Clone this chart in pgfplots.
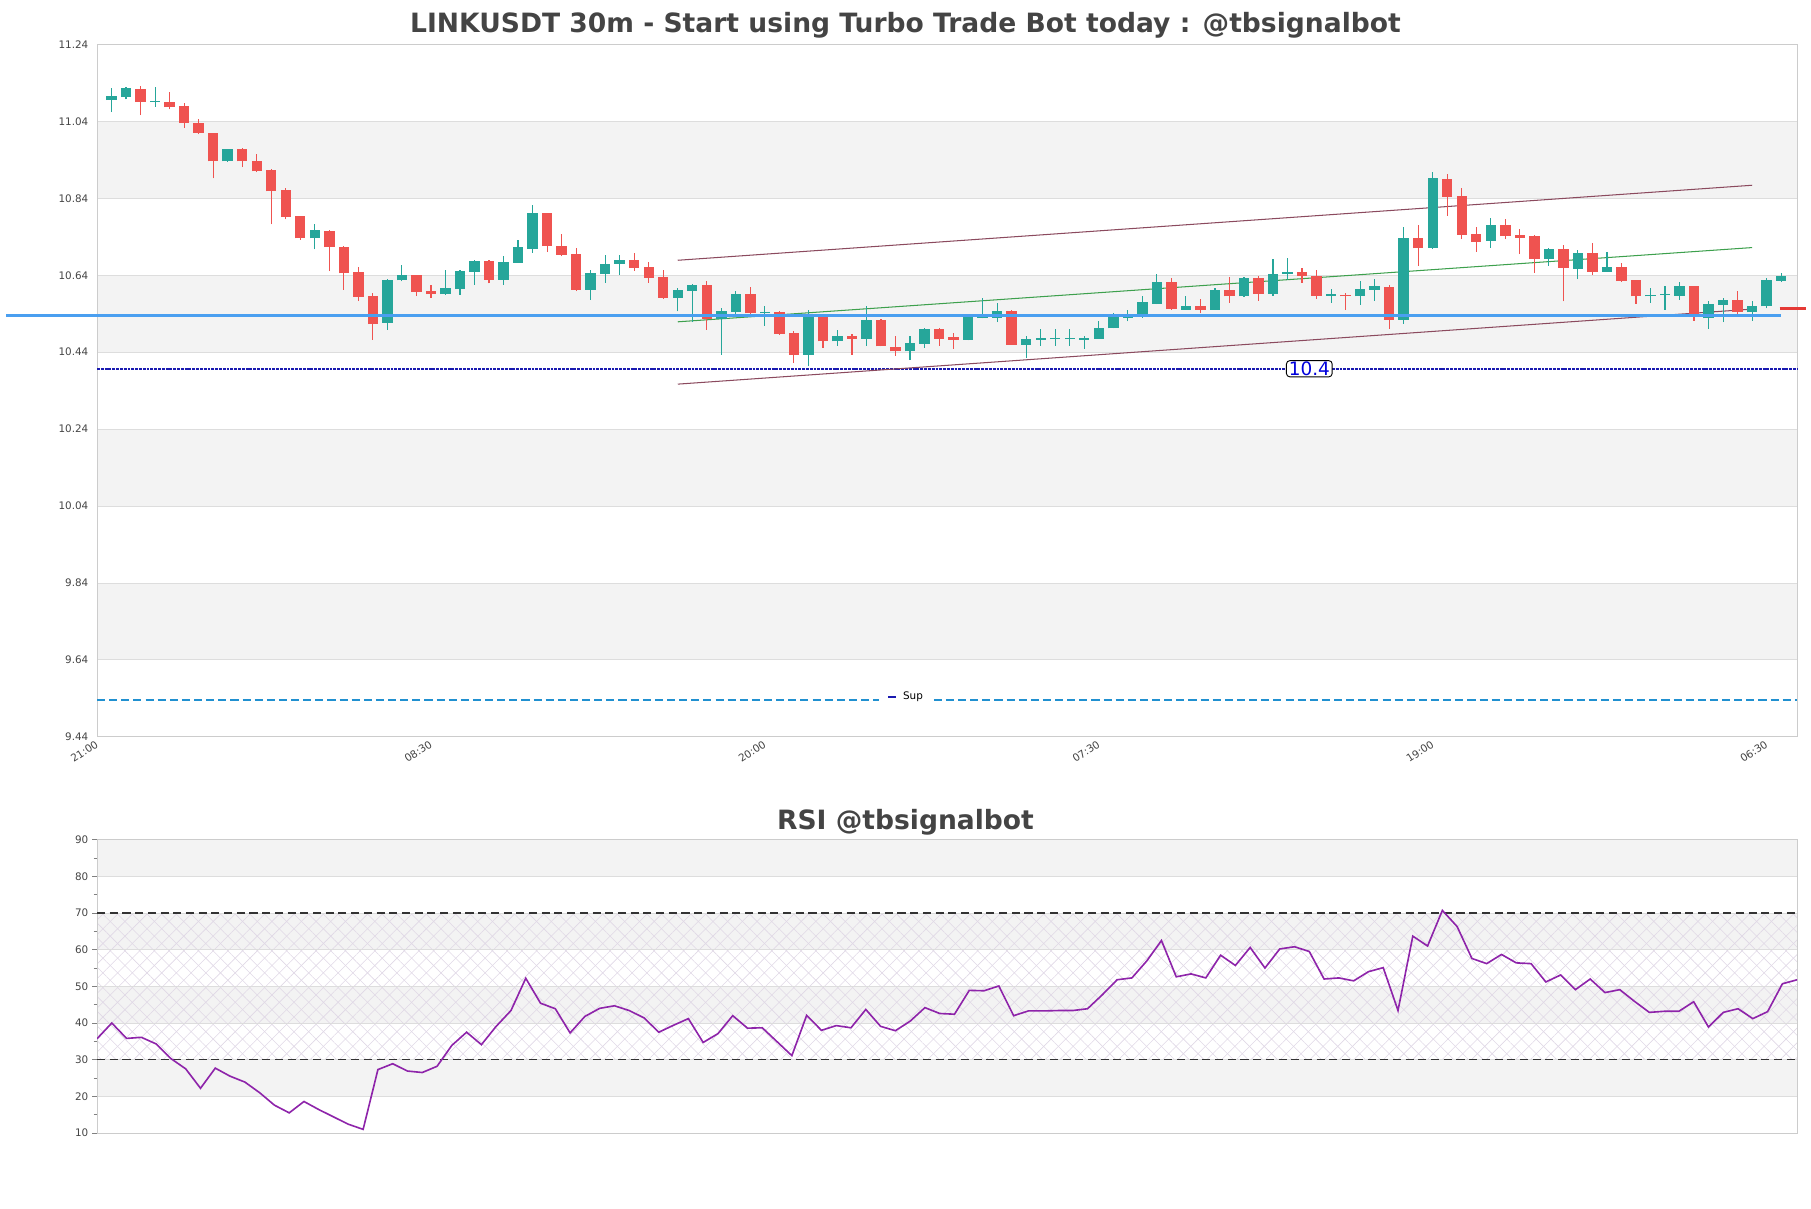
\documentclass[border=0pt]{standalone}
\usepackage{fontspec}
\setmainfont{DejaVu Sans}
\usepackage{pgfplots}
\usepackage{pgfplotstable}
\pgfplotsset{compat=1.18}
\usetikzlibrary{patterns.meta}

\definecolor{cgreen}{HTML}{26A69A}
\definecolor{cred}{HTML}{EF5350}
\definecolor{bandgray}{HTML}{F3F3F3}
\definecolor{gridgray}{HTML}{DDDDDD}
\definecolor{axisgray}{HTML}{CCCCCC}
\definecolor{txtgray}{HTML}{444444}
\definecolor{lblue}{HTML}{4A9FF0}
\definecolor{navyd}{HTML}{1A1AB0}
\definecolor{supblue}{HTML}{2090D0}
\definecolor{chanbrown}{HTML}{8B4A5E}
\definecolor{changreen}{HTML}{3DA04D}
\definecolor{rsipurple}{HTML}{8E24AA}
\definecolor{hatchc}{HTML}{E0D8E6}
\definecolor{markred}{HTML}{E53935}

\pgfplotstableread{
i o h l c
1 11.095 11.126 11.064 11.105
2 11.103 11.129 11.097 11.127
4 11.090 11.130 11.078 11.093
9 10.936 10.968 10.935 10.967
15 10.736 10.772 10.707 10.757
20 10.516 10.631 10.498 10.629
21 10.627 10.666 10.624 10.640
24 10.591 10.653 10.589 10.606
25 10.604 10.653 10.589 10.650
26 10.649 10.679 10.616 10.676
28 10.629 10.689 10.616 10.674
29 10.672 10.732 10.672 10.713
30 10.708 10.822 10.698 10.801
34 10.602 10.655 10.576 10.645
35 10.643 10.692 10.620 10.670
36 10.670 10.693 10.641 10.679
40 10.582 10.606 10.546 10.602
41 10.600 10.617 10.518 10.615
43 10.527 10.555 10.434 10.546
44 10.544 10.598 10.538 10.591
46 10.541 10.559 10.509 10.545
49 10.434 10.549 10.403 10.535
51 10.468 10.498 10.457 10.481
53 10.475 10.561 10.457 10.524
56 10.442 10.481 10.421 10.464
57 10.462 10.504 10.452 10.501
60 10.473 10.536 10.471 10.534
61 10.530 10.581 10.528 10.534
62 10.530 10.568 10.518 10.547
64 10.460 10.481 10.426 10.474
65 10.473 10.501 10.457 10.475
66 10.474 10.501 10.457 10.476
67 10.474 10.501 10.457 10.476
68 10.473 10.481 10.449 10.477
69 10.475 10.521 10.475 10.502
70 10.502 10.542 10.502 10.532
71 10.530 10.549 10.520 10.534
72 10.532 10.585 10.530 10.571
73 10.566 10.643 10.565 10.623
75 10.551 10.586 10.551 10.560
77 10.551 10.606 10.551 10.602
79 10.585 10.636 10.584 10.633
81 10.592 10.682 10.587 10.643
82 10.643 10.685 10.629 10.648
85 10.587 10.604 10.569 10.591
87 10.585 10.625 10.564 10.604
88 10.603 10.630 10.574 10.612
90 10.525 10.766 10.514 10.737
92 10.711 10.908 10.708 10.893
96 10.729 10.789 10.711 10.771
100 10.682 10.712 10.665 10.709
102 10.657 10.706 10.630 10.698
104 10.649 10.701 10.649 10.662
107 10.585 10.606 10.569 10.590
108 10.589 10.612 10.551 10.591
109 10.587 10.623 10.577 10.612
111 10.528 10.572 10.501 10.565
112 10.564 10.582 10.518 10.577
114 10.544 10.574 10.522 10.561
115 10.559 10.632 10.554 10.628
116 10.626 10.645 10.622 10.638
}\upcandles

\pgfplotstableread{
i o h l c
3 11.125 11.132 11.056 11.090
5 11.091 11.117 11.071 11.077
6 11.079 11.088 11.023 11.036
7 11.037 11.047 11.007 11.010
8 11.009 11.011 10.892 10.936
10 10.967 10.972 10.921 10.936
11 10.938 10.954 10.908 10.910
12 10.913 10.915 10.772 10.858
13 10.861 10.868 10.785 10.791
14 10.793 10.795 10.732 10.736
16 10.754 10.757 10.651 10.713
17 10.713 10.717 10.602 10.645
18 10.648 10.661 10.573 10.584
19 10.586 10.595 10.472 10.513
22 10.642 10.642 10.586 10.597
23 10.598 10.616 10.581 10.591
27 10.676 10.679 10.619 10.629
31 10.801 10.801 10.700 10.716
32 10.717 10.748 10.690 10.693
33 10.694 10.710 10.599 10.602
37 10.680 10.697 10.652 10.660
38 10.661 10.674 10.621 10.634
39 10.636 10.654 10.579 10.582
42 10.615 10.625 10.498 10.527
45 10.591 10.610 10.538 10.541
47 10.545 10.547 10.485 10.488
48 10.490 10.496 10.413 10.434
50 10.535 10.535 10.452 10.468
52 10.481 10.488 10.434 10.475
54 10.524 10.527 10.455 10.455
55 10.454 10.481 10.431 10.442
58 10.501 10.504 10.457 10.475
59 10.480 10.490 10.449 10.473
63 10.547 10.549 10.460 10.460
74 10.623 10.633 10.551 10.552
76 10.560 10.578 10.541 10.551
78 10.602 10.636 10.569 10.585
80 10.633 10.639 10.574 10.592
83 10.648 10.660 10.621 10.639
84 10.638 10.653 10.579 10.587
86 10.590 10.594 10.551 10.585
89 10.610 10.615 10.501 10.525
91 10.737 10.771 10.665 10.710
93 10.890 10.903 10.795 10.844
94 10.846 10.866 10.734 10.745
95 10.747 10.765 10.701 10.727
97 10.771 10.785 10.734 10.742
98 10.745 10.759 10.695 10.738
99 10.742 10.745 10.646 10.682
101 10.708 10.719 10.572 10.660
103 10.698 10.724 10.641 10.649
105 10.662 10.673 10.623 10.625
106 10.628 10.628 10.566 10.585
110 10.612 10.612 10.522 10.531
113 10.576 10.598 10.540 10.544
}\downcandles

\pgfplotstableread{
j r
0 35.7
1 40.0
2 35.8
3 36.1
4 34.3
5 30.3
6 27.5
7 22.2
8 27.7
9 25.5
10 23.9
11 21.0
12 17.6
13 15.5
14 18.6
15 16.4
16 14.4
17 12.4
18 11.0
19 27.3
20 28.9
21 26.9
22 26.5
23 28.2
24 33.9
25 37.5
26 34.1
27 39.1
28 43.4
29 52.2
30 45.4
31 43.9
32 37.3
33 41.8
34 44.0
35 44.7
36 43.4
37 41.4
38 37.5
39 39.4
40 41.2
41 34.7
42 37.1
43 42.0
44 38.6
45 38.7
46 34.9
47 31.1
48 42.1
49 38.0
50 39.3
51 38.7
52 43.7
53 39.1
54 37.9
55 40.5
56 44.2
57 42.6
58 42.4
59 48.9
60 48.8
61 50.1
62 42.0
63 43.3
64 43.3
65 43.4
66 43.4
67 43.9
68 47.7
69 51.8
70 52.3
71 56.9
72 62.5
73 52.6
74 53.4
75 52.3
76 58.5
77 55.7
78 60.6
79 55.0
80 60.2
81 60.8
82 59.5
83 52.0
84 52.3
85 51.5
86 54.0
87 55.1
88 43.4
89 63.7
90 61.0
91 70.7
92 66.3
93 57.6
94 56.2
95 58.7
96 56.4
97 56.2
98 51.2
99 53.1
100 49.1
101 52.0
102 48.3
103 49.1
104 45.9
105 42.9
106 43.2
107 43.2
108 45.8
109 38.9
110 42.9
111 43.9
112 41.2
113 43.1
114 50.7
115 51.8
}\rsidata

\begin{document}
\begin{tikzpicture}
\path (0pt,0pt) rectangle (1568pt,-1046pt);

\node[anchor=base, font=\bfseries\fontsize{23}{23}\selectfont, text=txtgray] at (784pt,-28pt) {LINKUSDT 30m - Start using Turbo Trade Bot today : @tbsignalbot};
\node[anchor=base, font=\bfseries\fontsize{23}{23}\selectfont, text=txtgray] at (784pt,-718pt) {RSI @tbsignalbot};

% ---------------- main price axis ----------------
\begin{axis}[
  at={(84pt,-38.5pt)}, anchor=north west,
  scale only axis, width=1472pt, height=599.5pt,
  set layers, clip=false,
  xmin=0, xmax=117.1, ymin=9.44, ymax=11.24,
  axis line style={axisgray, line width=0.8pt},
  major tick length=0pt,
  ytick={9.44,9.64,9.84,10.04,10.24,10.44,10.64,10.84,11.04,11.24},
  yticklabels={9.44,9.64,9.84,10.04,10.24,10.44,10.64,10.84,11.04,11.24},
  yticklabel style={font=\fontsize{9}{10}\selectfont, text=txtgray, xshift=-4pt},
  xtick={0,23,46,69,92,115},
  xticklabels={21:00,08:30,20:00,07:30,19:00,06:30},
  xticklabel style={font=\fontsize{9}{10}\selectfont, text=txtgray, rotate=33, anchor=north east, inner sep=1pt, xshift=-2pt},
  ymajorgrids, grid style={gridgray, line width=0.8pt},
  legend style={at={(axis description cs:0.476,0.058)}, anchor=center, draw=none, fill=white,
    font=\fontsize{9}{10}\selectfont, inner xsep=7pt, inner ysep=1pt},
]
% background bands
\addplot[on layer=axis background, draw=none, fill=bandgray, forget plot] coordinates {(0,10.84) (117.1,10.84) (117.1,11.04) (0,11.04)} --cycle;
\addplot[on layer=axis background, draw=none, fill=bandgray, forget plot] coordinates {(0,10.44) (117.1,10.44) (117.1,10.64) (0,10.64)} --cycle;
\addplot[on layer=axis background, draw=none, fill=bandgray, forget plot] coordinates {(0,10.04) (117.1,10.04) (117.1,10.24) (0,10.24)} --cycle;
\addplot[on layer=axis background, draw=none, fill=bandgray, forget plot] coordinates {(0,9.64) (117.1,9.64) (117.1,9.84) (0,9.84)} --cycle;

% support line
\addplot[supblue, line width=1pt, dash pattern=on 7pt off 3.5pt,
  legend image code/.code={\draw[navyd, line width=1.6pt] (0pt,0pt) -- (10pt,0pt);}]
  coordinates {(0,9.536) (117.1,9.536)};
\addlegendentry{Sup}

% dotted navy level
\addplot[navyd, line width=2pt, dash pattern=on 2.5pt off 0.8pt, forget plot] coordinates {(0,10.396) (117.1,10.396)};

% channel
\addplot[chanbrown, line width=0.9pt, forget plot] coordinates {(40,10.679) (114,10.874)};
\addplot[changreen, line width=0.9pt, forget plot] coordinates {(40,10.519) (114,10.712)};
\addplot[chanbrown, line width=0.9pt, forget plot] coordinates {(40,10.357) (114,10.552)};

% wicks
\addplot[draw=none, mark=none, forget plot, error bars/.cd, y dir=plus, y explicit, error mark=none,
  error bar style={draw=cgreen, line width=1pt}]
  table[x=i, y=l, y error expr={\thisrow{h}-\thisrow{l}}] {\upcandles};
\addplot[draw=none, mark=none, forget plot, error bars/.cd, y dir=plus, y explicit, error mark=none,
  error bar style={draw=cred, line width=1pt}]
  table[x=i, y=l, y error expr={\thisrow{h}-\thisrow{l}}] {\downcandles};
% bodies
\addplot[draw=none, mark=none, forget plot, error bars/.cd, y dir=plus, y explicit, error mark=none,
  error bar style={draw=cgreen, line width=9pt}]
  table[x=i, y=o, y error expr={max(\thisrow{c}-\thisrow{o},0.003)}] {\upcandles};
\addplot[draw=none, mark=none, forget plot, error bars/.cd, y dir=plus, y explicit, error mark=none,
  error bar style={draw=cred, line width=9pt}]
  table[x=i, y=c, y error expr={max(\thisrow{o}-\thisrow{c},0.003)}] {\downcandles};

% blue level line
\addplot[lblue, line width=3pt, forget plot] coordinates {(-6.25,10.536) (116,10.536)};
% red marker
\addplot[markred, line width=3pt, forget plot] coordinates {(115.9,10.553) (117.7,10.553)};

\node[draw=black, rounded corners=3pt, fill=white, text={rgb,255:red,0;green,0;blue,220},
  font=\fontsize{16}{16}\selectfont, inner xsep=2pt, inner ysep=1pt, line width=0.8pt]
  at (axis cs:83.5,10.397) {10.4};
\end{axis}

% ---------------- RSI axis ----------------
\begin{axis}[
  at={(84pt,-727pt)}, anchor=north west,
  scale only axis, width=1472pt, height=254pt,
  set layers,
  xmin=0, xmax=115, ymin=10, ymax=90,
  axis line style={axisgray, line width=0.8pt},
  xtick=\empty,
  ytick={10,20,...,90}, minor ytick={15,25,...,85},
  ytick pos=left, tick align=outside,
  major tick length=4pt, minor tick length=3pt,
  tick style={color=gray, line width=0.6pt},
  yticklabel style={font=\fontsize{9}{10}\selectfont, text=txtgray},
  /pgf/number format/assume math mode=true,
  ymajorgrids, grid style={gridgray, line width=0.8pt},
]
\addplot[on layer=axis background, draw=none, fill=bandgray] coordinates {(0,80) (115,80) (115,90) (0,90)} --cycle;
\addplot[on layer=axis background, draw=none, fill=bandgray] coordinates {(0,60) (115,60) (115,70) (0,70)} --cycle;
\addplot[on layer=axis background, draw=none, fill=bandgray] coordinates {(0,40) (115,40) (115,50) (0,50)} --cycle;
\addplot[on layer=axis background, draw=none, fill=bandgray] coordinates {(0,20) (115,20) (115,30) (0,30)} --cycle;
\addplot[on layer=axis background, draw=none, pattern={Lines[angle=45,distance=9pt,line width=0.5pt]}, pattern color=hatchc] coordinates {(0,30) (115,30) (115,70) (0,70)} --cycle;
\addplot[on layer=axis background, draw=none, pattern={Lines[angle=-45,distance=9pt,line width=0.5pt]}, pattern color=hatchc] coordinates {(0,30) (115,30) (115,70) (0,70)} --cycle;

\addplot[black!80, line width=1pt, dash pattern=on 7pt off 4pt] coordinates {(0,70) (115,70)};
\addplot[black!80, line width=1pt, dash pattern=on 7pt off 4pt] coordinates {(0,30) (115,30)};

\addplot[rsipurple, line width=1.4pt, mark=none] table[x=j, y=r] {\rsidata};
\end{axis}
\end{tikzpicture}
\end{document}
